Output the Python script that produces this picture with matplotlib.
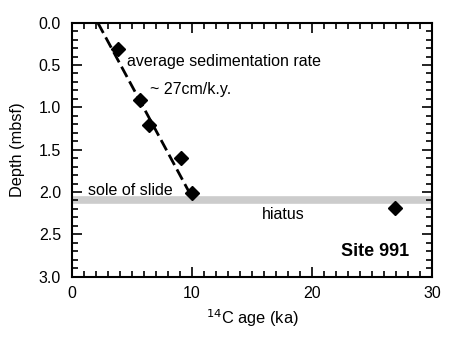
import numpy as np
import matplotlib.pyplot as plt
from matplotlib.ticker import MultipleLocator, FormatStrFormatter

plt.rcParams['font.family'] = ['Liberation Sans', 'DejaVu Sans']

# 14C ages (ka) and depths (mbsf)
age = [3.8, 5.7, 6.4, 9.05, 10.0, 26.9]
depth = [0.31, 0.91, 1.21, 1.60, 2.01, 2.19]

# regression line, ~27 cm/k.y.
line_age = [2.15, 10.1]
line_depth = [0.0, 2.09]

sole_depth = 2.10

fig = plt.figure(figsize=(4.52, 3.44), dpi=100)
ax = fig.add_axes([0.1593, 0.1957, 0.7965, 0.7383])

ax.axhline(sole_depth, color='#cccccc', linewidth=5.5, zorder=1)
ax.plot(line_age, line_depth, color='black', linewidth=2, dashes=(4.2, 1.8), zorder=2)
ax.plot(age, depth, 'D', color='black', markersize=6.8, zorder=3)

fs = 11.5
ax.text(4.6, 0.46, 'average sedimentation rate', fontsize=fs, va='center', ha='left')
ax.text(6.5, 0.79, '~ 27cm/k.y.', fontsize=fs, va='center', ha='left')
ax.text(1.3, 1.98, 'sole of slide', fontsize=fs, va='center', ha='left')
ax.text(15.8, 2.26, 'hiatus', fontsize=fs, va='center', ha='left')
ax.text(28.1, 2.70, 'Site 991', fontsize=13, fontweight='bold', va='center', ha='right')

ax.set_xlim(0, 30)
ax.set_ylim(3.0, 0.0)
ax.xaxis.set_major_locator(MultipleLocator(10))
ax.xaxis.set_minor_locator(MultipleLocator(1))
ax.yaxis.set_major_locator(MultipleLocator(0.5))
ax.yaxis.set_minor_locator(MultipleLocator(0.1))
ax.yaxis.set_major_formatter(FormatStrFormatter('%.1f'))
ax.tick_params(which='both', direction='in', top=True, right=True, labelsize=fs)
ax.tick_params(axis='y', which='major', pad=8)
ax.tick_params(axis='x', which='major', pad=7)
ax.tick_params(which='major', length=7, width=1.2)
ax.tick_params(which='minor', length=4, width=1.2)
for s in ax.spines.values():
    s.set_linewidth(1.5)

ax.set_xlabel('$^{14}$C age (ka)', fontsize=11.8, labelpad=4)
ax.set_ylabel('Depth (mbsf)', fontsize=11.8, labelpad=10)

fig.savefig('out.png', dpi=100)
